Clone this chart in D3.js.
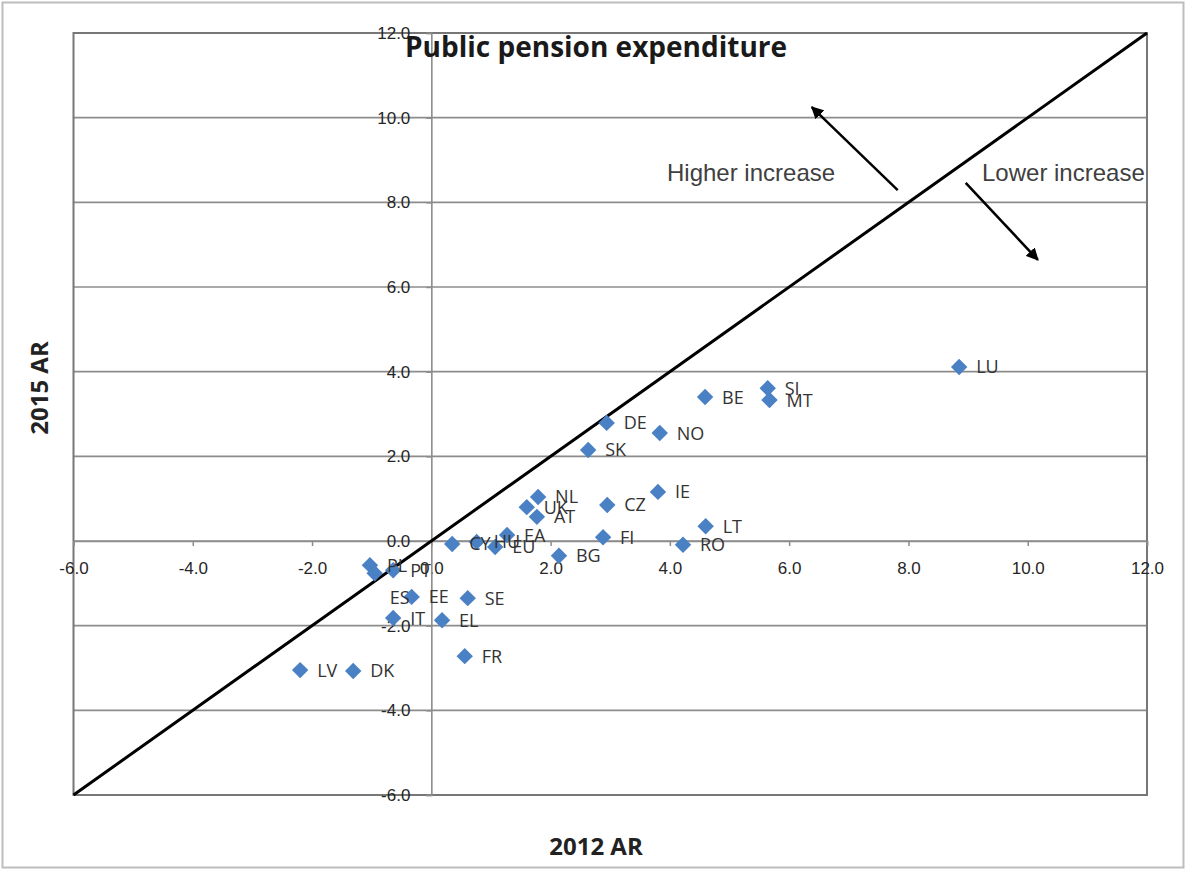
<!DOCTYPE html>
<html><head><meta charset="utf-8">
<script src="https://cdn.jsdelivr.net/npm/d3@7"></script>
<style>body{margin:0;background:#fff}svg{display:block}</style>
</head><body>
<script>
const countries = ["LU","SI","MT","BE","DE","NO","SK","IE","CZ","NL","UK","AT","LT","FI","RO","BG","CY","HU","EU","EA","PL","PT","ES","EE","SE","IT","EL","FR","LV","DK"];
const ar2012 = [8.85,5.64,5.67,4.59,2.94,3.83,2.63,3.80,2.95,1.79,1.60,1.77,4.60,2.88,4.22,2.14,0.35,0.76,1.07,1.27,-1.03,-0.64,-0.95,-0.33,0.61,-0.64,0.18,0.56,-2.20,-1.31];
const ar2015 = [4.11,3.61,3.33,3.40,2.79,2.55,2.15,1.16,0.85,1.04,0.80,0.57,0.35,0.09,-0.09,-0.35,-0.07,-0.02,-0.14,0.14,-0.57,-0.69,-0.76,-1.32,-1.35,-1.82,-1.87,-2.72,-3.05,-3.07];
const xTicks = [-6,-4,-2,0,2,4,6,8,10,12];
const yTicks = [-6,-4,-2,0,2,4,6,8,10,12];
const diagonal = [[-6,-6],[12,12]];
const arrowHigher = [[7.82,8.29],[6.38,10.25]];
const arrowLower = [[8.96,8.46],[10.17,6.64]];
const title = "Public pension expenditure";
const xTitle = "2012 AR", yTitle = "2015 AR";
const noteHigher = "Higher increase", noteLower = "Lower increase";
// label offset tweaks (style)
const labelOffset = {ES:[15,24]};

const W=1186,H=870;
const svg=d3.select("body").append("svg").attr("width",W).attr("height",H);
const defs=svg.append("defs");
defs.append("marker").attr("id","ah").attr("viewBox","0 0 10 10").attr("refX",9).attr("refY",5)
 .attr("markerWidth",5).attr("markerHeight",5).attr("orient","auto")
 .append("path").attr("d","M0,0L10,5L0,10z").attr("fill","#000");

svg.append("rect").attr("x",2.5).attr("y",2.5).attr("width",W-5).attr("height",H-5)
 .attr("fill","#fff").attr("stroke","#bdbdbd").attr("stroke-width",2);

const x=d3.scaleLinear().domain([-6,12]).range([73.5,1147]);
const y=d3.scaleLinear().domain([-6,12]).range([795,33]);
const g=svg.append("g");

// gridlines
g.selectAll(".gy").data(yTicks).join("line")
 .attr("x1",x(-6)).attr("x2",x(12)).attr("y1",d=>y(d)).attr("y2",d=>y(d))
 .attr("stroke","#8c8c8c").attr("stroke-width",1.6);
// plot border
g.append("rect").attr("x",x(-6)).attr("y",y(12)).attr("width",x(12)-x(-6)).attr("height",y(-6)-y(12))
 .attr("fill","none").attr("stroke","#777").attr("stroke-width",2);

const tickFont="Liberation Sans, Arial, sans-serif";
const fmt=d=>d3.format(".1f")(d).replace("\u2212","-");
// axes
const xAxis=d3.axisBottom(x).tickValues(xTicks).tickSize(5).tickFormat(fmt).tickPadding(16);
const ax=g.append("g").attr("transform",`translate(0,${y(0)})`).call(xAxis);
ax.attr("font-size",null).attr("font-family",null);
ax.select(".domain").attr("stroke","#8c8c8c").attr("stroke-width",1.6);
ax.selectAll(".tick line").attr("stroke","#8c8c8c").attr("stroke-width",1.5);
ax.selectAll("text").style("font-family",tickFont).style("font-size","17px").attr("fill","#262626");

const yAxis=d3.axisLeft(y).tickValues(yTicks).tickSize(5).tickFormat(fmt).tickPadding(16);
const ay=g.append("g").attr("transform",`translate(${x(0)},0)`).call(yAxis);
ay.attr("font-size",null).attr("font-family",null);
ay.select(".domain").attr("stroke","#8c8c8c").attr("stroke-width",1.6);
ay.selectAll(".tick line").attr("stroke","#8c8c8c").attr("stroke-width",1.5);
ay.selectAll("text").style("font-family",tickFont).style("font-size","17px").attr("fill","#262626");

// diagonal
const line=d3.line().x(d=>x(d[0])).y(d=>y(d[1]));
g.append("path").attr("d",line(diagonal)).attr("stroke","#000").attr("stroke-width",3).attr("fill","none");

// points
const pts=countries.map((c,i)=>({c,a:ar2012[i],b:ar2015[i]}));
const sym=d3.symbol().type(d3.symbolSquare).size(135);
g.selectAll(".pt").data(pts).join("path")
 .attr("d",sym).attr("transform",d=>`translate(${x(d.a)},${y(d.b)}) rotate(45)`)
 .attr("fill","#4a80c4");
g.selectAll(".lb").data(pts).join("text")
 .attr("x",d=>x(d.a)+(labelOffset[d.c]?labelOffset[d.c][0]:17))
 .attr("y",d=>y(d.b)+(labelOffset[d.c]?labelOffset[d.c][1]:0))
 .attr("dy","0.36em").text(d=>d.c)
 .style("font-family","Open Sans, sans-serif").style("font-size","18px").attr("fill","#333");

// arrows
[arrowHigher,arrowLower].forEach(a=>{
 g.append("path").attr("d",line(a)).attr("stroke","#000").attr("stroke-width",2.5).attr("fill","none").attr("marker-end","url(#ah)");
});

// annotations
g.append("text").attr("x",667).attr("y",181).text(noteHigher)
 .style("font-family",tickFont).style("font-size","24px").attr("fill","#404040");
g.append("text").attr("x",982).attr("y",181).text(noteLower)
 .style("font-family",tickFont).style("font-size","24px").attr("fill","#404040");

// titles
svg.append("text").attr("x",405).attr("y",57).text(title)
 .style("font-family","Open Sans, sans-serif").style("font-weight","bold").style("font-size","28px").attr("fill","#1a1a1a");
svg.append("text").attr("x",596).attr("y",855).attr("text-anchor","middle").text(xTitle)
 .style("font-family","Open Sans, sans-serif").style("font-weight","bold").style("font-size","24px").attr("fill","#222");
svg.append("text").attr("transform","translate(48,388) rotate(-90)").attr("text-anchor","middle").text(yTitle)
 .style("font-family","Open Sans, sans-serif").style("font-weight","bold").style("font-size","24px").attr("fill","#222");
</script>
</body></html>
